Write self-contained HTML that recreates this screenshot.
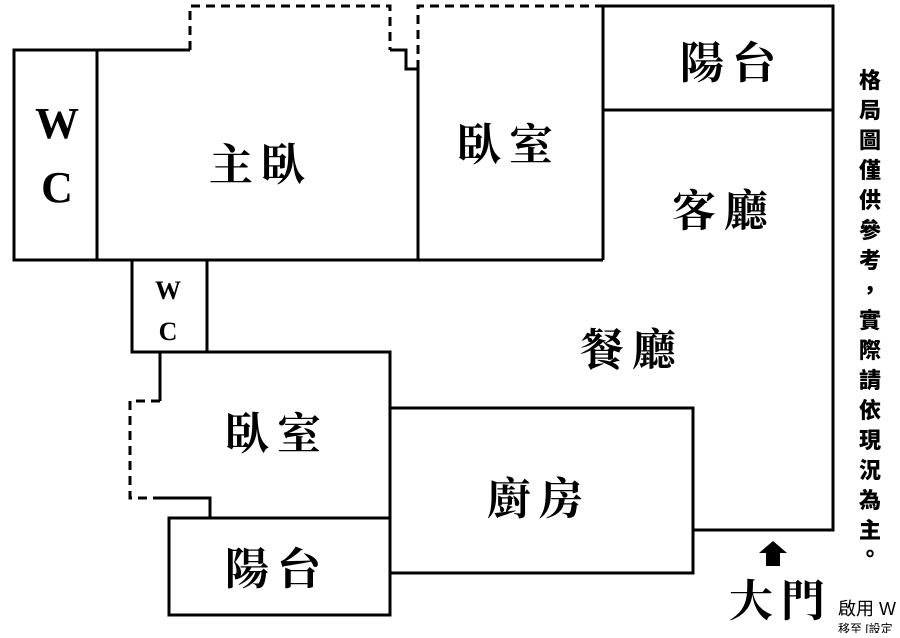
<!DOCTYPE html>
<html><head><meta charset="utf-8"><style>
body{margin:0;background:#fff;width:900px;height:633px;overflow:hidden}
svg text{font-family:"Liberation Serif","Noto Serif CJK SC","Noto Sans CJK TC",serif;font-weight:bold;fill:#000}
svg .v text{font-family:"Noto Sans CJK TC",sans-serif;font-weight:900}
</style></head><body>
<svg width="900" height="633" viewBox="0 0 900 633" xmlns="http://www.w3.org/2000/svg">
<g fill="none" stroke="#000" stroke-width="3">
<g stroke-dasharray="9,6">
<polyline points="190,50 190,6 390,6 390,50"/>
<polyline points="418,69 418,6 603,6"/>
<polyline points="160,401 130,401 130,498 160,498"/>
</g>
<polyline points="14,50 190,50"/>
<polyline points="390,50 406,50 406,69 418,69 418,260"/>
<rect x="14" y="50" width="83" height="210"/>
<line x1="14" y1="260" x2="603" y2="260"/>
<polyline points="603,6 833,6 833,530 693,530"/>
<line x1="603" y1="110" x2="833" y2="110"/>
<line x1="603" y1="6" x2="603" y2="260"/>
<rect x="132" y="260" width="75" height="92"/>
<polyline points="160,401 160,352 390,352 390,518"/>
<polyline points="160,498 210,498 210,518"/>
<rect x="169" y="518" width="221" height="97"/>
<rect x="390" y="408" width="303" height="165"/>
</g>
<polygon points="773,541 787,553 780,553 780,566 766,566 766,553 759,553" fill="#000"/>
<g font-size="44" text-anchor="middle">
<text x="57" y="138">W</text>
<text x="57" y="202">C</text>
</g>
<g font-size="44" text-anchor="middle" letter-spacing="8">
<text x="261" y="180">主臥</text>
<text x="509" y="160">臥室</text>
<text x="732" y="78">陽台</text>
<text x="724" y="226">客廳</text>
<text x="632" y="365">餐廳</text>
<text x="277" y="449">臥室</text>
<text x="539" y="514">廚房</text>
<text x="277" y="584">陽台</text>
<text x="781" y="616">大門</text>
</g>
<g font-size="26" text-anchor="middle">
<text x="168" y="299">W</text>
<text x="168" y="340">C</text>
</g>
<g class="v" font-size="22" text-anchor="middle">
<text x="870" y="88">格</text><text x="870" y="118">局</text><text x="870" y="148">圖</text><text x="870" y="178">僅</text>
<text x="870" y="208">供</text><text x="870" y="238">參</text><text x="870" y="268">考</text><text x="870" y="298">，</text>
<text x="870" y="328">實</text><text x="870" y="358">際</text><text x="870" y="388">請</text><text x="870" y="418">依</text>
<text x="870" y="448">現</text><text x="870" y="478">況</text><text x="870" y="508">為</text><text x="870" y="538">主</text>
<text x="870" y="562">。</text>
</g>
<text x="838" y="615" font-size="18" style="font-weight:normal;font-family:'Liberation Sans','Noto Sans CJK TC',sans-serif" fill="#b0b0b0">啟用 W</text>
<text x="838" y="633" font-size="12" style="font-weight:normal;font-family:'Liberation Sans','Noto Sans CJK TC',sans-serif" fill="#c0c0c0">移至 [設定</text>
</svg>
</body></html>
